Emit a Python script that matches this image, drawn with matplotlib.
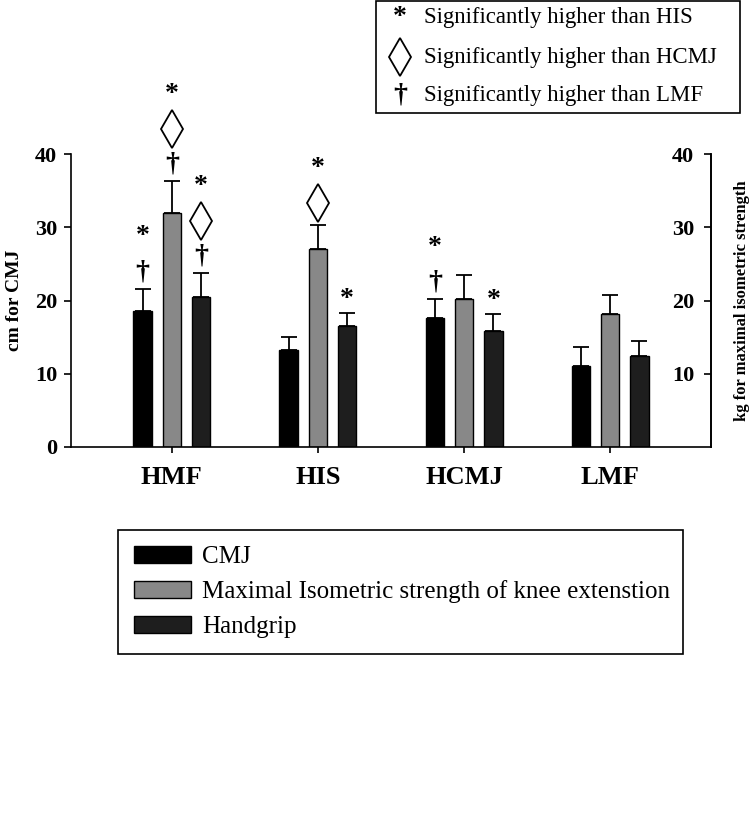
import matplotlib
matplotlib.use("Agg")
import matplotlib.pyplot as plt
import numpy as np
from matplotlib.lines import Line2D
from matplotlib.patches import Rectangle
from matplotlib.transforms import offset_copy

groups = ['HMF', 'HIS', 'HCMJ', 'LMF']
series = ['CMJ', 'Maximal Isometric strength of knee extenstion', 'Handgrip']
cmj = [18.5, 13.2, 17.6, 11.1]
cmj_sd = [3.1, 1.8, 2.6, 2.6]
knee = [32.0, 27.0, 20.2, 18.2]
knee_sd = [4.3, 3.3, 3.3, 2.5]
grip = [20.5, 16.5, 15.8, 12.4]
grip_sd = [3.2, 1.8, 2.4, 2.1]
colors = ['#000000', '#888888', '#1e1e1e']

# significance marks above each bar, bottom to top
# '+' = higher than LMF, 'd' = higher than HCMJ, '*' = higher than HIS
marks = {(0, 0): '+*', (0, 1): '+d*', (0, 2): '+d*',
         (1, 1): 'd*', (1, 2): '*',
         (2, 0): '+*', (2, 2): '*'}

SERIF = 'Liberation Serif'
plt.rcParams['font.family'] = SERIF

fig = plt.figure(figsize=(7.49, 8.17), dpi=100)
ax = fig.add_axes([71 / 749, 1 - 447 / 817, 640 / 749, 293 / 817])

x = np.arange(len(groups))
width = 0.127
offsets = [-0.2, 0.0, 0.2]
values = [cmj, knee, grip]
sds = [cmj_sd, knee_sd, grip_sd]

bars = []
for i in range(3):
    b = ax.bar(x + offsets[i], values[i], width, color=colors[i],
               edgecolor='black', linewidth=1.0, label=series[i], zorder=2)
    ax.errorbar(x + offsets[i], values[i], yerr=[np.zeros(4), sds[i]],
                fmt='none', ecolor='black', elinewidth=1.3, capsize=5.5,
                capthick=1.3, zorder=1)
    bars.append(b)

ax.set_xlim(-0.69, 3.69)
ax.set_ylim(0, 40)
ax.set_yticks([0, 10, 20, 30, 40])
ax.set_xticks(x)
ax.set_xticklabels(groups, fontsize=19, fontweight='bold')
ax.tick_params(axis='y', direction='out', length=5, width=1.2, labelsize=16, pad=5)
ax.tick_params(axis='x', direction='out', length=4, width=1.2, pad=10)
for lab in ax.get_yticklabels():
    lab.set_fontweight('bold')
ax.spines['top'].set_visible(False)
for s in ['left', 'right', 'bottom']:
    ax.spines[s].set_linewidth(1.2)
ax.set_ylabel('cm for CMJ', fontsize=14, fontweight='bold')
ax.yaxis.set_label_coords(-0.075, 0.5)

ax2 = ax.twinx()
ax2.set_ylim(0, 40)
ax2.set_yticks([10, 20, 30, 40])
ax2.tick_params(axis='y', direction='in', length=5, width=1.2, labelsize=16, pad=-12)
for lab in ax2.get_yticklabels():
    lab.set_fontweight('bold')
    lab.set_horizontalalignment('right')
for s in ['top', 'left', 'bottom']:
    ax2.spines[s].set_visible(False)
ax2.spines['right'].set_linewidth(1.2)
ax2.set_ylabel('kg for maximal isometric strength', fontsize=12, fontweight='bold')
ax2.yaxis.set_label_coords(1.036, 0.5)

# significance symbols
base = {'+': 17, 'd': 22, '*': 13}
for (g, s), syms in marks.items():
    xv = x[g] + offsets[s]
    yv = values[s][g] + sds[s][g]
    pos = base[syms[0]]
    for k, sym in enumerate(syms):
        if k > 0:
            pos += 35
        tr = offset_copy(ax.transData, fig=fig, x=0, y=pos, units='dots')
        if sym == 'd':
            ax.plot([xv], [yv], marker='d', ms=19, mfc='white', mec='black',
                    mew=1.3, transform=tr, clip_on=False, zorder=3)
        elif sym == '*':
            ax.text(xv, yv, '*', transform=tr, ha='center', va='center',
                    fontsize=20, fontweight='bold', clip_on=False)
        else:
            ax.text(xv, yv, '\u2020', transform=tr, ha='center', va='center',
                    fontsize=20, fontweight='bold', clip_on=False)

# symbol key (top right)
fig.add_artist(Rectangle((376 / 749, 1 - 113 / 817), 364 / 749, 112 / 817,
                         transform=fig.transFigure, fill=False,
                         edgecolor='black', linewidth=1.2))
key_y = [18, 57, 95]
key_txt = ['Significantly higher than HIS', 'Significantly higher than HCMJ',
           'Significantly higher than LMF']
fig.text(400 / 749, 1 - key_y[0] / 817, '*', ha='center', va='center',
         fontsize=20, fontweight='bold')
fig.add_artist(Line2D([400 / 749], [1 - key_y[1] / 817], marker='d', ms=19,
                      mfc='white', mec='black', mew=1.3,
                      transform=fig.transFigure))
fig.text(400 / 749, 1 - key_y[2] / 817, '\u2020', ha='center', va='center',
         fontsize=20, fontweight='bold')
for yy, t in zip(key_y, key_txt):
    fig.text(424 / 749, 1 - yy / 817, t, ha='left', va='center', fontsize=16.4)

# series legend (bottom)
leg = fig.legend(handles=bars, labels=series, loc='upper left',
                 bbox_to_anchor=(118 / 749, 1 - 530 / 817, 565 / 749, 0),
                 mode='expand', fontsize=18, frameon=True, fancybox=False,
                 edgecolor='black', framealpha=1, handlelength=2.3,
                 handleheight=0.7, labelspacing=0.5, borderpad=0.62,
                 handletextpad=0.45, borderaxespad=0)
leg.get_frame().set_linewidth(1.2)

fig.savefig('out.png', dpi=100)
